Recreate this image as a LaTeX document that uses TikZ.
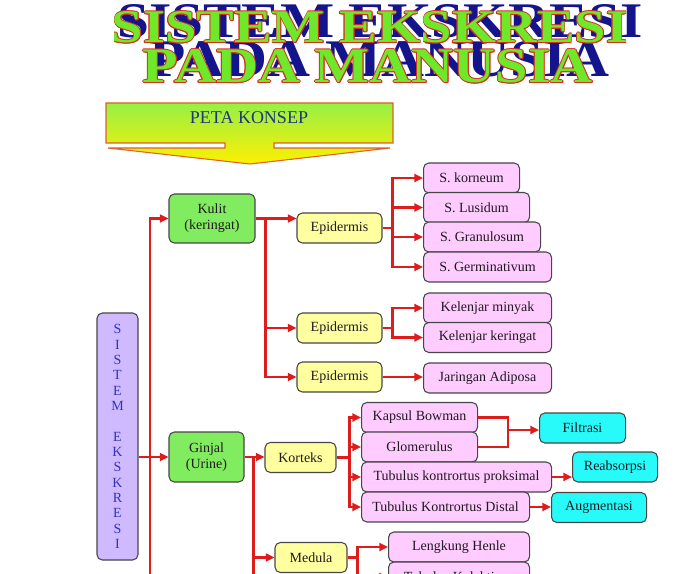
\documentclass[tikz,border=0pt]{standalone}
\usepackage{fontspec}
\setmainfont{Liberation Serif}
\usetikzlibrary{arrows.meta, positioning}

\definecolor{merah}{RGB}{222,28,28}
\definecolor{garisabu}{RGB}{70,70,70}
\definecolor{teks}{RGB}{30,25,30}
\definecolor{hijaumuda}{RGB}{130,236,96}
\definecolor{kuningmuda}{RGB}{255,255,160}
\definecolor{pinkmuda}{RGB}{255,204,255}
\definecolor{tosca}{RGB}{40,250,250}
\definecolor{lavender}{RGB}{208,186,255}
\definecolor{hurufungu}{RGB}{50,50,190}
\definecolor{birutua}{RGB}{30,55,120}
\definecolor{hijaujudul}{RGB}{110,232,40}
\definecolor{birujudul}{RGB}{20,20,140}
\definecolor{merahjudul}{RGB}{215,45,35}
\definecolor{hijaukuning}{RGB}{150,240,70}
\definecolor{kuningpanah}{RGB}{255,240,0}
\definecolor{jingga}{RGB}{225,95,40}

\begin{document}
\begin{tikzpicture}[x=0.75pt, y=-0.75pt,
    kotak/.style={draw=garisabu, rounded corners=4pt, line width=0.8pt, minimum height=22.5pt,
                  inner sep=1pt, text=teks, font=\fontsize{10.5}{12}\selectfont, align=center},
    hijau/.style={kotak, fill=hijaumuda},
    kuning/.style={kotak, fill=kuningmuda},
    merahmuda/.style={kotak, fill=pinkmuda},
    birumuda/.style={kotak, fill=tosca},
    ungu/.style={kotak, fill=lavender, text=hurufungu, font=\fontsize{10.5}{11.5}\selectfont},
    lebar/.style={minimum width=#1*0.75pt},
    tinggi/.style={minimum height=#1*0.75pt},
    garis/.style={draw=merah, line width=2pt},
    panah/.style={garis, -{Triangle[length=6.5pt,width=6pt]}},
    judul/.style={inner sep=0pt, font=\bfseries}]

    \useasboundingbox (0,0) rectangle (700,574);
    \clip (0,0) rectangle (700,574);

    % Judul (bayangan biru, garis tepi merah, isi hijau)
    \node[judul, text=birujudul] (bayang1) at (380,21.5) {\resizebox{393.75pt}{24.75pt}{SISTEM EKSKRESI}};
    \node[judul, text=birujudul] (bayang2) at (380,59.5) {\resizebox{345pt}{26.25pt}{PADA MANUSIA}};
    \foreach \dx/\dy [count=\i] in {-0.7/0, 0.7/0, 0/-0.7, 0/0.7, -0.5/-0.5, 0.5/0.5, -0.5/0.5, 0.5/-0.5} {
        \node[judul, text=merahjudul] (tepiA\i) at ([xshift=\dx pt, yshift=\dy pt]370,27.5) {\resizebox{387pt}{23.25pt}{SISTEM EKSKRESI}};
        \node[judul, text=merahjudul] (tepiB\i) at ([xshift=\dx pt, yshift=\dy pt]368,66.5) {\resizebox{337.5pt}{24.75pt}{PADA MANUSIA}};
    }
    \node[judul, text=hijaujudul] (isi1) at (370,27.5) {\resizebox{387pt}{23.25pt}{SISTEM EKSKRESI}};
    \node[judul, text=hijaujudul] (isi2) at (368,66.5) {\resizebox{337.5pt}{24.75pt}{PADA MANUSIA}};

    % Panah peta konsep
    \shadedraw[top color=hijaukuning, bottom color=kuningpanah, draw=jingga, line width=0.8pt]
        (106,103) -- (393,103) -- (393,143) -- (274,143) -- (274,148) -- (390,148)
        -- (250,164) -- (108,148) -- (225,148) -- (225,143) -- (106,143) -- cycle;
    \node[font=\fontsize{13.5}{15}\selectfont, text=birutua] (peta) at (249,118) {PETA KONSEP};

    % Kotak utama
    \node[ungu, lebar=41, tinggi=247] (sistem) at (117.5,436.5)
        {S\\I\\S\\T\\E\\M\\[11.5pt]E\\K\\S\\K\\R\\E\\S\\I};
    \node[hijau, lebar=86, tinggi=49] (kulit) at (212,218.5) {Kulit\\(keringat)};
    \node[hijau, lebar=75, tinggi=50] (ginjal) at (206.5,457) {Ginjal\\(Urine)};

    % Cabang kulit
    \node[kuning, lebar=85] (epi1) at (339.5,228) {Epidermis};
    \node[kuning, lebar=85] (epi2) at (339.5,328) {Epidermis};
    \node[kuning, lebar=85] (epi3) at (339.5,377) {Epidermis};

    \node[merahmuda, lebar=96, anchor=west] (korneum) at (423,178) {S. korneum};
    \node[merahmuda, lebar=106, anchor=west] (lusidum) at (423,207.5) {S. Lusidum};
    \node[merahmuda, lebar=117, anchor=west] (granulosum) at (423,237) {S. Granulosum};
    \node[merahmuda, lebar=128, anchor=west] (germinativum) at (423,267) {S. Germinativum};
    \node[merahmuda, lebar=128, anchor=west] (minyak) at (423,308) {Kelenjar minyak};
    \node[merahmuda, lebar=128, anchor=west] (keringat) at (423,337.5) {Kelenjar keringat};
    \node[merahmuda, lebar=128, anchor=west] (adiposa) at (423,378) {Jaringan Adiposa};

    % Cabang ginjal
    \node[kuning, lebar=71] (korteks) at (300.5,457.5) {Korteks};
    \node[kuning, lebar=72] (medula) at (311,557.5) {Medula};

    \node[merahmuda, lebar=116, anchor=west] (kapsul) at (361,417.5) {Kapsul Bowman};
    \node[merahmuda, lebar=116, anchor=west] (glomerulus) at (361,447) {Glomerulus};
    \node[merahmuda, lebar=190, anchor=west] (proksimal) at (361,477) {Tubulus kontrortus proksimal};
    \node[merahmuda, lebar=168, anchor=west] (distal) at (361,507) {Tubulus Kontrortus Distal};
    \node[merahmuda, lebar=141, anchor=west] (henle) at (388,547) {Lengkung Henle};
    \node[merahmuda, lebar=141, anchor=west] (kolektivus) at (388,577) {Tubulus Kolektivus};

    \node[birumuda, lebar=86, anchor=west] (filtrasi) at (539,428) {Filtrasi};
    \node[birumuda, lebar=85, anchor=west] (reabsorpsi) at (572,467) {Reabsorpsi};
    \node[birumuda, lebar=95, anchor=west] (augmentasi) at (551,507.5) {Augmentasi};

    % Garis penghubung
    \coordinate (ujung) at (150,600);
    \draw[panah] (ujung) |- (kulit.west);
    \draw[panah] (sistem.east |- ginjal.west) -- (ginjal.west);

    \path (kulit.east) ++(10,0) coordinate (jkulit);
    \draw[panah] (kulit.east) -- (kulit.east -| epi1.west);
    \draw[panah] (jkulit) |- (epi2.west);
    \draw[panah] (jkulit) |- (epi3.west);

    \path (epi1.east) ++(10,0) coordinate (jepi1);
    \draw[garis] (epi1.east) -- (jepi1);
    \draw[panah] (jepi1) |- (korneum.west);
    \draw[panah] (jepi1) |- (lusidum.west);
    \draw[panah] (jepi1) |- (granulosum.west);
    \draw[panah] (jepi1) |- (germinativum.west);

    \path (epi2.east) ++(10,0) coordinate (jepi2);
    \draw[garis] (epi2.east) -- (jepi2);
    \draw[panah] (jepi2) |- (minyak.west);
    \draw[panah] (jepi2) |- (keringat.west);
    \draw[panah] (epi3.east) -- (epi3.east -| adiposa.west);

    \path (ginjal.east) ++(9,0) coordinate (jginjal);
    \draw[garis] (ginjal.east) -- (jginjal) -- (jginjal |- ujung);
    \draw[panah] (jginjal) -- (jginjal -| korteks.west);
    \draw[panah] (jginjal) |- (medula.west);

    \path (korteks.east) ++(13,0) coordinate (jkorteks);
    \draw[garis] (korteks.east) -- (jkorteks);
    \draw[panah] (jkorteks) |- (kapsul.west);
    \draw[panah] (jkorteks) |- (glomerulus.west);
    \draw[panah] (jkorteks) |- (proksimal.west);
    \draw[panah] (jkorteks) |- (distal.west);

    \coordinate (jfiltrasi) at (508,430);
    \draw[garis] (kapsul.east) -| (jfiltrasi) |- (glomerulus.east);
    \draw[panah] (jfiltrasi) -- (jfiltrasi -| filtrasi.west);
    \draw[panah] (proksimal.east) -- (proksimal.east -| reabsorpsi.west);
    \draw[panah] (distal.east) -- (distal.east -| augmentasi.west);

    \path (medula.east) ++(10,0) coordinate (jmedula);
    \draw[garis] (medula.east) -- (jmedula) -- (jmedula |- ujung);
    \draw[panah] (jmedula) |- (henle.west);
    \draw[panah] (jmedula) |- (kolektivus.west);
\end{tikzpicture}
\end{document}
